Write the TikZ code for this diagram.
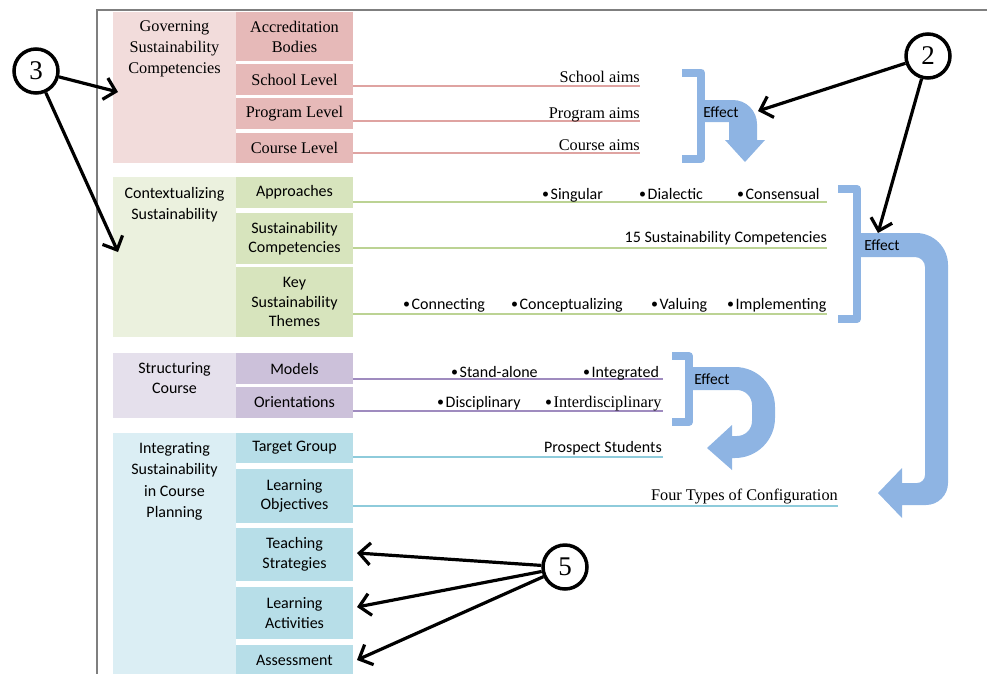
\documentclass[tikz,border=0pt]{standalone}
\usepackage{fontspec}
\setmainfont{Carlito}
\newfontfamily\serifft{Liberation Serif}
\newfontfamily\bulft{Carlito}
\usetikzlibrary{arrows.meta}
\newcommand{\bul}{\raisebox{0.6pt}{\bulft\fontsize{14}{14}\selectfont •}\hspace{1.5pt}}
\definecolor{pinkL}{HTML}{F2DCDB}
\definecolor{pinkD}{HTML}{E6B9B8}
\definecolor{pinkLn}{HTML}{DFA3A1}
\definecolor{greenL}{HTML}{EBF1DE}
\definecolor{greenD}{HTML}{D7E4BD}
\definecolor{greenLn}{HTML}{BCD394}
\definecolor{purpL}{HTML}{E5E0EC}
\definecolor{purpD}{HTML}{CCC1DA}
\definecolor{purpLn}{HTML}{9F8BBF}
\definecolor{blueL}{HTML}{DBEEF4}
\definecolor{blueD}{HTML}{B7DEE8}
\definecolor{blueLn}{HTML}{8ECBDB}
\definecolor{effc}{HTML}{8EB4E3}
\definecolor{framec}{HTML}{7F7F7F}
\begin{document}
\begin{tikzpicture}[x=1pt,y=-1pt,
  lc/.style={minimum width=123pt, inner sep=0pt, anchor=north west},
  ib/.style={minimum width=117pt, inner sep=0pt, align=center, font=\fontsize{16}{19.5}\selectfont},
  ibs/.style={minimum width=117pt, inner sep=0pt, align=center, font=\serifft\fontsize{16.3}{20}\selectfont},
  hd/.style={anchor=north, inner sep=0pt, align=center, font=\fontsize{16}{21.5}\selectfont},
  hds/.style={anchor=north, inner sep=0pt, align=center, font=\serifft\fontsize{16.3}{21}\selectfont},
  lab/.style={inner sep=0pt, font=\fontsize{16}{19}\selectfont},
  labs/.style={inner sep=0pt, font=\serifft\fontsize{16.3}{19}\selectfont},
  bl/.style={lab, anchor=base west},
  ra/.style={lab, anchor=base east},
  ras/.style={labs, anchor=base east},
  cn/.style={line width=1.2pt},
  brk/.style={draw=effc, line width=8pt, line join=round},
  eff/.style={lab, font=\fontsize{15.5}{18}\selectfont},
  numc/.style={circle, draw, line width=3.5pt, minimum size=44pt, inner sep=0pt, fill=white, font=\serifft\fontsize{27}{27}\selectfont},
  numarr/.style={line width=3.2pt, -{Straight Barb[length=11pt,width=22pt]}}
]
\useasboundingbox (0,0) rectangle (987,673);
\clip (0,0) rectangle (987,673);
\draw[framec, line width=1.4pt] (97,680) -- (97,10) -- (990,10);

% ---------- Group 1 ----------
\node[lc, fill=pinkL, minimum height=151pt] (g1) at (113,12) {};
\node[hds] (g1h) at (174.5,21) {Governing\\Sustainability\\Competencies};
\node[ibs, fill=pinkD, minimum height=49pt] (acc) at (294.5,36.5) {Accreditation\\Bodies};
\node[ibs, fill=pinkD, minimum height=31pt] (sl) at (294.5,79.5) {School Level};
\node[ibs, fill=pinkD, minimum height=31pt] (pl) at (294.5,113.5) {Program Level};
\node[ibs, fill=pinkD, minimum height=30pt] (cl) at (294.5,148) {Course Level};
\coordinate (sle) at (640,86);
\coordinate (ple) at (640,121);
\coordinate (cle) at (640,153);
\draw[cn, pinkLn] (sle -| sl.east) -- (sle);
\draw[cn, pinkLn] (ple -| pl.east) -- (ple);
\draw[cn, pinkLn] (cle -| cl.east) -- (cle);
\node[ras] (sla) at (640,82) {School aims};
\node[ras] (pla) at (640,118) {Program aims};
\node[ras] (cla) at (640,150) {Course aims};

% ---------- Group 2 ----------
\node[lc, fill=greenL, minimum height=160pt] (g2) at (113,177) {};
\node[hd] (g2h) at (174.5,187) {Contextualizing\\Sustainability};
\node[ib, fill=greenD, minimum height=31pt] (app) at (294.5,192.5) {Approaches};
\node[ib, fill=greenD, minimum height=51pt] (sc) at (294.5,238.5) {Sustainability\\Competencies};
\node[ib, fill=greenD, minimum height=70pt] (key) at (294.5,302) {Key\\Sustainability\\Themes};
\coordinate (appe) at (827,202);
\coordinate (sce) at (827,248);
\coordinate (keye) at (827,314);
\draw[cn, greenLn] (appe -| app.east) -- (appe);
\draw[cn, greenLn] (sce -| sc.east) -- (sce);
\draw[cn, greenLn] (keye -| key.east) -- (keye);
\node[bl] (b1) at (542,199) {\bul Singular};
\node[bl] (b2) at (639,199) {\bul Dialectic};
\node[bl] (b3) at (737,199) {\bul Consensual};
\node[ra] (scl) at (827,242) {15 Sustainability Competencies};
\node[bl] (b4) at (403,309) {\bul Connecting};
\node[bl] (b5) at (511,309) {\bul Conceptualizing};
\node[bl] (b6) at (651,309) {\bul Valuing};
\node[bl] (b7) at (727,309) {\bul Implementing};

% ---------- Group 3 ----------
\node[lc, fill=purpL, minimum height=65pt] (g3) at (113,353) {};
\node[hd, font=\fontsize{16}{20}\selectfont] (g3h) at (174.5,362) {Structuring\\Course};
\node[ib, fill=purpD, minimum height=31pt] (mod) at (294.5,368.5) {Models};
\node[ib, fill=purpD, minimum height=31pt] (ori) at (294.5,402.5) {Orientations};
\coordinate (mode) at (663,379);
\coordinate (orie) at (663,411);
\draw[cn, purpLn] (mode -| mod.east) -- (mode);
\draw[cn, purpLn] (orie -| ori.east) -- (orie);
\node[bl] (b8) at (451,377) {\bul Stand-alone};
\node[bl] (b9) at (583,377) {\bul Integrated};
\node[bl] (b10) at (437,407) {\bul Disciplinary};
\node[labs, anchor=base west] (b11) at (545,407) {\bul Interdisciplinary};

% ---------- Group 4 ----------
\node[lc, fill=blueL, minimum height=250pt] (g4) at (113,433) {};
\node[hd] (g4h) at (174.5,442) {Integrating\\Sustainability\\in Course\\Planning};
\node[ib, fill=blueD, minimum height=30pt] (tg) at (294.5,448) {Target Group};
\node[ib, fill=blueD, minimum height=54pt] (lo) at (294.5,496) {Learning\\Objectives};
\node[ib, fill=blueD, minimum height=53pt] (ts) at (294.5,554.5) {Teaching\\Strategies};
\node[ib, fill=blueD, minimum height=52pt] (la) at (294.5,613) {Learning\\Activities};
\node[ib, fill=blueD, minimum height=31pt] (as) at (294.5,660.5) {Assessment};
\coordinate (tge) at (663,457);
\coordinate (loe) at (838,506);
\draw[cn, blueLn] (tge -| tg.east) -- (tge);
\draw[cn, blueLn] (loe -| lo.east) -- (loe);
\node[ra] (tgl) at (662,452) {Prospect Students};
\node[ras] (lol) at (838,500) {Four Types of Configuration};

% ---------- Effect arrows ----------
\draw[brk] (682,72.5) -- (701,72.5) -- (701,159) -- (682,159);
\fill[effc] (697,100) -- (733,100) .. controls (746.2,100) and (757,110.8) .. (757,124)
  -- (757,140) -- (765,140) -- (745,162) -- (725,140) -- (729,140) -- (729,122) -- (697,122) -- cycle;
\node[eff] (e1) at (721,112) {Effect};

\draw[brk] (838,189) -- (857,189) -- (857,319) -- (838,319);
\fill[effc] (857,233) -- (916,233) .. controls (933.7,233) and (948,247.3) .. (948,265)
  -- (948,483) .. controls (948,495.1) and (938.1,505) .. (926,505)
  -- (902,505) -- (902,518) -- (878,493) -- (902,468) -- (902,483) -- (917,483)
  .. controls (921.4,483) and (925,479.4) .. (925,475)
  -- (925,267) .. controls (925,261.5) and (920.5,257) .. (915,257) -- (857,257) -- cycle;
\node[eff] (e2) at (882,245) {Effect};

\draw[brk] (672,356) -- (689,356) -- (689,422) -- (672,422);
\fill[effc] (689,367) -- (735,367) .. controls (757.1,367) and (775,384.9) .. (775,407)
  -- (775,418) .. controls (775,440.1) and (757.1,458) .. (735,458)
  -- (732,458) -- (732,470) -- (707,448) -- (732,425) -- (732,436) -- (737,436)
  .. controls (745.3,436) and (752,429.3) .. (752,421)
  -- (752,405) .. controls (752,396.7) and (745.3,390) .. (737,390) -- (689,390) -- cycle;
\node[eff] (e3) at (712,379) {Effect};

% ---------- Number callouts ----------
\node[numc] (c3) at (36,71) {3};
\node[numc] (c2) at (928,56) {2};
\node[numc] (c5) at (565,567) {5};
\coordinate (t3a) at (118,92);
\coordinate (t3b) at (118,252);
\coordinate (t2a) at (758,111);
\coordinate (t2b) at (878,233);
\coordinate (t5a) at (357,553);
\coordinate (t5b) at (357,607);
\coordinate (t5c) at (357,660);
\draw[numarr] (c3) -- (t3a);
\draw[numarr] (c3) -- (t3b);
\draw[numarr] (c2) -- (t2a);
\draw[numarr] (c2) -- (t2b);
\draw[numarr] (c5) -- (t5a);
\draw[numarr] (c5) -- (t5b);
\draw[numarr] (c5) -- (t5c);
\end{tikzpicture}
\end{document}
